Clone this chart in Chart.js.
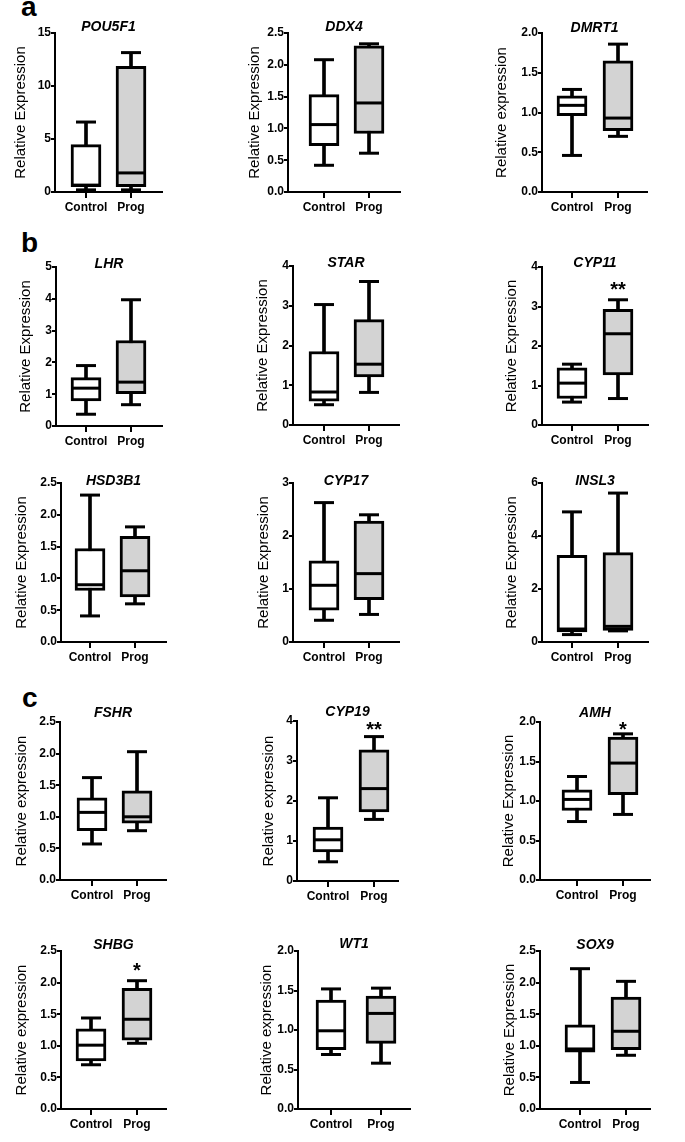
<!DOCTYPE html>
<html><head><meta charset="utf-8">
<script src="https://cdn.jsdelivr.net/npm/chart.js@4.4.1/dist/chart.umd.min.js"></script>
<style>
html,body{margin:0;padding:0;background:#fff;}
body{width:685px;height:1142px;position:relative;overflow:hidden;}
canvas{position:absolute;}
.panel{position:absolute;font:bold 28px "Liberation Sans",Arial,sans-serif;line-height:28px;color:#000;}
</style></head><body>
<div class="panel" style="left:21px;top:-7px">a</div>
<div class="panel" style="left:21px;top:229px">b</div>
<div class="panel" style="left:22px;top:684px">c</div>
<div id="wrap"></div>
<script>
// ---------- DATA ----------
const genes = ['POU5F1','DDX4','DMRT1','LHR','STAR','CYP11','HSD3B1','CYP17','INSL3','FSHR','CYP19','AMH','SHBG','WT1','SOX9'];
const groups = ['Control','Prog'];
const yAxisTitles = ['Relative Expression','Relative Expression','Relative expression',
  'Relative Expression','Relative Expression','Relative Expression',
  'Relative Expression','Relative Expression','Relative Expression',
  'Relative expression','Relative expression','Relative Expression',
  'Relative expression','Relative expression','Relative Expression'];
const yAxisMax  = [15, 2.5, 2.0, 5, 4, 4, 2.5, 3, 6, 2.5, 4, 2.0, 2.5, 2.0, 2.5];
const yAxisStep = [5, 0.5, 0.5, 1, 1, 1, 0.5, 1, 2, 0.5, 1, 0.5, 0.5, 0.5, 0.5];
const yTickDecimals = [0, 1, 1, 0, 0, 0, 1, 0, 0, 1, 0, 1, 1, 1, 1];

const controlMin    = [0.20, 0.42, 0.46, 0.37, 0.51, 0.58, 0.41, 0.41, 0.28, 0.57, 0.48, 0.74, 0.70, 0.69, 0.42];
const controlQ1     = [0.50, 0.73, 0.96, 0.79, 0.60, 0.67, 0.81, 0.60, 0.38, 0.78, 0.73, 0.88, 0.76, 0.75, 0.90];
const controlMedian = [0.65, 1.06, 1.09, 1.19, 0.83, 1.06, 0.90, 1.07, 0.49, 1.07, 1.03, 1.02, 1.01, 0.99, 0.95];
const controlQ3     = [4.47, 1.53, 1.21, 1.52, 1.85, 1.45, 1.47, 1.53, 3.27, 1.30, 1.35, 1.14, 1.27, 1.38, 1.33];
const controlMax    = [6.60, 2.08, 1.29, 1.90, 3.03, 1.54, 2.31, 2.63, 4.91, 1.62, 2.08, 1.31, 1.44, 1.52, 2.22];

const progMin    = [0.20, 0.61, 0.70, 0.67, 0.82, 0.67, 0.60, 0.52, 0.42, 0.78, 1.54, 0.83, 1.04, 0.58, 0.85];
const progQ1     = [0.50, 0.92, 0.77, 1.02, 1.21, 1.27, 0.71, 0.80, 0.44, 0.90, 1.73, 1.08, 1.09, 0.83, 0.94];
const progMedian = [1.80, 1.40, 0.93, 1.38, 1.53, 2.31, 1.12, 1.29, 0.59, 1.00, 2.31, 1.48, 1.42, 1.21, 1.23];
const progQ3     = [11.86, 2.30, 1.65, 2.69, 2.65, 2.93, 1.66, 2.28, 3.37, 1.41, 3.28, 1.81, 1.91, 1.43, 1.77];
const progMax    = [13.15, 2.33, 1.86, 3.97, 3.61, 3.17, 1.81, 2.40, 5.62, 2.03, 3.61, 1.85, 2.03, 1.53, 2.02];

const sigText  = ['', '', '', '', '', '**', '', '', '', '', '**', '*', '*', '', ''];
const sigValue = [0, 0, 0, 0, 0, 3.55, 0, 0, 0, 0, 3.9, 1.97, 2.27, 0, 0];

// ---------- LAYOUT (pixel geometry of each panel) ----------
const geom = [
  {L:55, R:162, T:33, B:192, c1:86, c2:131, yt:20.6, tcy:27, narrow:false},
  {L:288, R:400, T:33, B:192, c1:324, c2:369, yt:254.6, tcy:27, narrow:false},
  {L:542, R:647, T:33, B:192, c1:572, c2:618, yt:501, tcy:28, narrow:false},
  {L:56, R:162, T:267, B:426, c1:86, c2:131, yt:25.8, tcy:264, narrow:false},
  {L:293, R:399, T:266, B:425, c1:324, c2:369, yt:262.5, tcy:263, narrow:false},
  {L:542, R:648, T:267, B:425, c1:572, c2:618, yt:511.5, tcy:263, narrow:false},
  {L:61, R:166, T:483, B:642, c1:90, c2:135, yt:21, tcy:481, narrow:false},
  {L:293, R:399, T:483, B:642, c1:324, c2:369, yt:263.5, tcy:481, narrow:false},
  {L:542, R:648, T:483, B:642, c1:572, c2:618, yt:511, tcy:481, narrow:false},
  {L:60, R:166, T:722, B:880, c1:92, c2:137, yt:21.6, tcy:713, narrow:true},
  {L:297, R:398, T:721, B:881, c1:328, c2:374, yt:268, tcy:712, narrow:true},
  {L:540, R:650, T:722, B:880, c1:577, c2:623, yt:508.6, tcy:713, narrow:true},
  {L:61, R:166, T:951, B:1109, c1:91, c2:137, yt:21.6, tcy:945, narrow:true},
  {L:298, R:410, T:951, B:1109, c1:331, c2:381, yt:266.6, tcy:944, narrow:true},
  {L:540, R:650, T:951, B:1109, c1:580, c2:626, yt:509.6, tcy:945, narrow:true}
];

const FAM = '"Liberation Sans", Arial, sans-serif';
const FAM_N = '"Liberation Sans Narrow", "Liberation Sans", Arial, sans-serif';

const sigPlugin = {
  id: 'sig',
  afterDatasetsDraw(chart, args, opts) {
    if (!opts.text) return;
    const ctx = chart.ctx;
    const x = chart.scales.x.getPixelForValue(1);
    const y = chart.scales.y.getPixelForValue(opts.value);
    const size = 20;
    ctx.save();
    ctx.font = 'bold ' + size + 'px ' + opts.family;
    ctx.textAlign = 'center';
    ctx.textBaseline = 'alphabetic';
    ctx.fillStyle = '#000';
    ctx.fillText(opts.text, x, y + 0.57 * size);
    ctx.restore();
  }
};

const wrap = document.getElementById('wrap');
genes.forEach((gene, i) => {
  const g = geom[i];
  const fam = g.narrow ? FAM_N : FAM;
  const P = 12, lhT = 14, yTitleLH = 15, xH = 30;
  const pb = (g.T - g.tcy) - lhT / 2;
  const top = Math.round(g.tcy - P - lhT / 2);
  const left = Math.round(g.yt - yTitleLH / 2);
  const yW = g.L - left;
  const W = Math.ceil(g.R + 6 - left);
  const Hc = g.B + xH - top;
  const cv = document.createElement('canvas');
  cv.width = W; cv.height = Hc;
  cv.style.left = left + 'px'; cv.style.top = top + 'px';
  cv.style.width = W + 'px'; cv.style.height = Hc + 'px';
  wrap.appendChild(cv);
  const sp = g.c2 - g.c1;
  new Chart(cv, {
    type: 'bar',
    data: {
      datasets: [
        {type: 'bar', data: [{x: 0, y: [controlMin[i], controlMax[i]]}, {x: 1, y: [progMin[i], progMax[i]]}],
          backgroundColor: '#000', borderWidth: 0, barThickness: 3, grouped: false, order: 3},
        {type: 'bar', data: [{x: 0, y: [controlQ1[i], controlQ3[i]]}, {x: 1, y: [progQ1[i], progQ3[i]]}],
          backgroundColor: ['#ffffff', '#d3d3d3'], borderColor: '#000', borderWidth: 3, borderSkipped: false,
          barThickness: 30, grouped: false, order: 2},
        {type: 'line', data: [{x: 0, y: controlMedian[i]}, {x: 1, y: progMedian[i]}], showLine: false,
          pointStyle: 'line', pointRadius: 13.5, pointBorderWidth: 3, pointBorderColor: '#000', order: 1},
        {type: 'line', data: [{x: 0, y: controlMin[i]}, {x: 1, y: progMin[i]}], showLine: false,
          pointStyle: 'line', pointRadius: 10, pointBorderWidth: 3, pointBorderColor: '#000', order: 1},
        {type: 'line', data: [{x: 0, y: controlMax[i]}, {x: 1, y: progMax[i]}], showLine: false,
          pointStyle: 'line', pointRadius: 10, pointBorderWidth: 3, pointBorderColor: '#000', order: 1}
      ]
    },
    options: {
      responsive: false, animation: false, events: [],
      layout: {autoPadding: false, padding: {top: P, left: 0, right: 6, bottom: 0}},
      plugins: {
        legend: {display: false}, tooltip: {enabled: false},
        title: {display: true, text: gene, fullSize: false, color: '#000',
          font: {family: fam, size: 14, weight: 'bold', style: 'italic', lineHeight: 1},
          padding: {top: 0, bottom: pb}},
        sig: {text: sigText[i], value: sigValue[i], family: fam}
      },
      scales: {
        x: {
          type: 'linear', position: 'bottom', offset: false,
          min: -(g.c1 - g.L) / sp, max: 1 + (g.R - g.c2) / sp,
          afterBuildTicks: s => { s.ticks = [{value: 0}, {value: 1}]; },
          afterFit: s => { s.height = xH; },
          ticks: {callback: v => groups[v], color: '#000', padding: 2, maxRotation: 0, autoSkip: false,
            font: {family: fam, size: 12, weight: 'bold'}},
          grid: {display: true, offset: false, drawOnChartArea: false, drawTicks: true, tickLength: 6, color: '#000', lineWidth: 2},
          border: {display: true, color: '#000', width: 2}
        },
        y: {
          type: 'linear', min: 0, max: yAxisMax[i],
          afterFit: s => { s.width = yW; },
          ticks: {stepSize: yAxisStep[i], callback: v => Number(v).toFixed(yTickDecimals[i]), color: '#000', padding: 0,
            font: {family: fam, size: 12, weight: 'bold'}},
          title: {display: true, text: yAxisTitles[i], color: '#000', padding: 0,
            font: {family: fam, size: 15, lineHeight: 1}},
          grid: {display: true, drawOnChartArea: false, drawTicks: true, tickLength: 4, color: '#000', lineWidth: 2},
          border: {display: true, color: '#000', width: 2}
        }
      }
    },
    plugins: [sigPlugin]
  });
});
</script>
</body></html>
